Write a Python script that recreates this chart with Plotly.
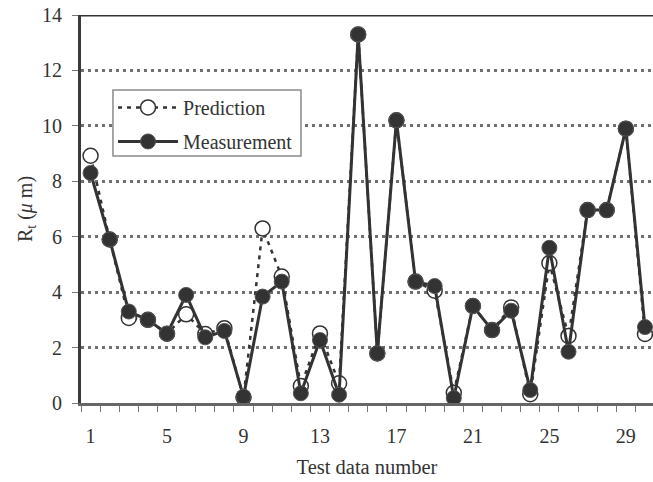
import plotly.graph_objects as go

test_number = list(range(1, 31))
prediction = [8.92, 5.9, 3.07, 3.0, 2.5, 3.2, 2.49, 2.7, 0.2, 6.30,
              4.56, 0.61, 2.51, 0.71, 13.3, 1.79, 10.2, 4.38, 4.05, 0.37,
              3.5, 2.63, 3.45, 0.32, 5.05, 2.42, 6.96, 6.96, 9.9, 2.49]
measurement = [8.3, 5.9, 3.3, 3.0, 2.5, 3.9, 2.37, 2.6, 0.23, 3.84,
               4.38, 0.35, 2.27, 0.3, 13.3, 1.79, 10.2, 4.38, 4.22, 0.18,
               3.5, 2.63, 3.33, 0.47, 5.6, 1.85, 6.96, 6.96, 9.9, 2.74]
x_tick_labels = ["1", "5", "9", "13", "17", "21", "25", "29"]
x_tick_vals = [1, 5, 9, 13, 17, 21, 25, 29]
y_tick_vals = [0, 2, 4, 6, 8, 10, 12, 14]

dark = "#333333"
font_family = "Liberation Serif"

fig = go.Figure()
fig.add_trace(go.Scatter(
    x=test_number, y=prediction, name="Prediction", mode="lines+markers",
    legendgroup="p",
    line=dict(color=dark, width=2.5, dash="4px,5px"),
    marker=dict(symbol="circle", size=15, color="white", line=dict(color=dark, width=1.5)),
))
fig.add_trace(go.Scatter(
    x=test_number, y=measurement, name="Measurement", mode="lines+markers",
    legendgroup="m",
    line=dict(color=dark, width=3),
    marker=dict(symbol="circle", size=15, color=dark, line=dict(color="#555555", width=1)),
))

fig.update_layout(
    width=653, height=482,
    margin=dict(l=81, r=0, t=15, b=79),
    paper_bgcolor="white", plot_bgcolor="white",
    font=dict(family=font_family, size=20, color=dark),
    showlegend=True,
    legend=dict(
        x=0.056, y=0.812, xanchor="left", yanchor="top",
        bgcolor="rgba(0,0,0,0)", borderwidth=0,
        font=dict(family=font_family, size=20, color=dark),
        itemwidth=60, tracegroupgap=5,
    ),
    xaxis=dict(
        range=[0.5, 30.42], tickvals=x_tick_vals, ticktext=x_tick_labels,
        ticks="", showgrid=False, zeroline=False, automargin=False,
        showline=True, linecolor="#666666", linewidth=3,
        ticklabelstandoff=13,
        minor=dict(ticks="outside", tick0=0.5, dtick=1, ticklen=6,
                   tickcolor="#777777", tickwidth=1, showgrid=False),
        title=dict(text="Test data number", font=dict(size=20.5), standoff=14),
    ),
    yaxis=dict(
        range=[0, 14], tickvals=y_tick_vals,
        ticks="outside", ticklen=6, tickcolor="#777777", tickwidth=1,
        showgrid=True, gridcolor="#707070", griddash="3px,4px", gridwidth=2.5,
        zeroline=False, showline=True, linecolor="#3a3a3a", linewidth=3,
        ticklabelstandoff=6, automargin=False,
        title=dict(text="R<sub>t</sub> (<i>μ</i> m)", font=dict(size=20), standoff=5),
    ),
)
fig.add_shape(type="line", xref="paper", yref="y", x0=0, x1=1, y0=14, y1=14,
              line=dict(color="#333333", width=3))
# legend frame
fig.add_shape(type="rect", xref="paper", yref="paper",
              x0=0.0559, x1=0.3846, y0=0.6366, y1=0.8067,
              fillcolor="white", line=dict(color="#8a8a8a", width=1.5), layer="above")

fig.write_html("out.html", config={"displayModeBar": False},
               post_script="document.body.style.margin='0';")
